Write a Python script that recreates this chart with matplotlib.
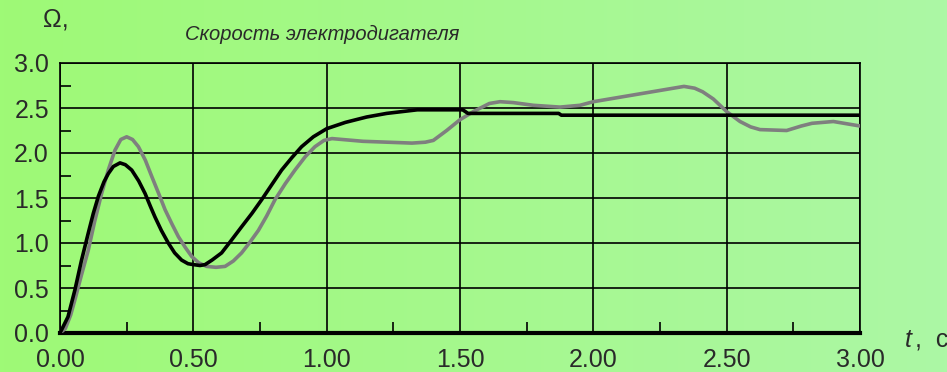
import numpy as np
import matplotlib
matplotlib.use("Agg")
import matplotlib.pyplot as plt
from matplotlib.colors import LinearSegmentedColormap

# Black curve (time, value)
t_black = [0.0, 0.03, 0.056, 0.08, 0.106, 0.125, 0.144, 0.165, 0.181, 0.20, 0.225, 0.245,
           0.269, 0.295, 0.319, 0.34, 0.356, 0.38, 0.406, 0.43, 0.456, 0.48, 0.5, 0.525,
           0.544, 0.57, 0.606, 0.64, 0.681, 0.72, 0.756, 0.79, 0.831, 0.87, 0.906, 0.95,
           1.0, 1.07, 1.15, 1.225, 1.34, 1.51, 1.53, 1.87, 1.88, 3.0]
v_black = [0.0, 0.18, 0.48, 0.80, 1.11, 1.33, 1.52, 1.68, 1.77, 1.85, 1.89, 1.87,
           1.81, 1.69, 1.55, 1.40, 1.29, 1.14, 1.0, 0.89, 0.81, 0.77, 0.76, 0.75,
           0.76, 0.81, 0.89, 1.02, 1.18, 1.33, 1.48, 1.63, 1.81, 1.95, 2.07, 2.18,
           2.27, 2.34, 2.40, 2.44, 2.48, 2.48, 2.44, 2.44, 2.42, 2.42]

# Gray curve (time, value)
t_gray = [0.0, 0.02, 0.04, 0.056, 0.08, 0.106, 0.13, 0.156, 0.181, 0.206, 0.228, 0.25,
          0.272, 0.294, 0.32, 0.344, 0.37, 0.394, 0.42, 0.444, 0.47, 0.494, 0.52, 0.55,
          0.585, 0.619, 0.65, 0.681, 0.71, 0.744, 0.775, 0.806, 0.845, 0.881, 0.92, 0.956,
          0.99, 1.02, 1.136, 1.32, 1.37, 1.40, 1.45, 1.5, 1.55, 1.61, 1.65, 1.7, 1.775,
          1.875, 1.95, 2.0, 2.14, 2.26, 2.34, 2.38, 2.41, 2.45, 2.50, 2.55, 2.59, 2.625,
          2.725, 2.78, 2.82, 2.9, 3.0]
v_gray = [0.0, 0.05, 0.2, 0.37, 0.64, 0.92, 1.24, 1.55, 1.81, 2.03, 2.15, 2.18,
          2.15, 2.07, 1.92, 1.74, 1.55, 1.37, 1.21, 1.07, 0.95, 0.85, 0.78, 0.74,
          0.73, 0.74, 0.80, 0.89, 1.00, 1.14, 1.30, 1.48, 1.66, 1.81, 1.96, 2.07,
          2.14, 2.16, 2.13, 2.11, 2.12, 2.14, 2.25, 2.37, 2.46, 2.55, 2.57, 2.56, 2.53,
          2.51, 2.53, 2.57, 2.64, 2.70, 2.74, 2.72, 2.68, 2.60, 2.46, 2.35, 2.29, 2.26,
          2.25, 2.30, 2.33, 2.35, 2.30]

x_ticks = [0.0, 0.5, 1.0, 1.5, 2.0, 2.5, 3.0]
x_labels = ["0.00", "0.50", "1.00", "1.50", "2.00", "2.50", "3.00"]
y_ticks = [0.0, 0.5, 1.0, 1.5, 2.0, 2.5, 3.0]
y_labels = ["0.0", "0.5", "1.0", "1.5", "2.0", "2.5", "3.0"]

FONT = ["Liberation Sans", "DejaVu Sans"]
plt.rcParams["font.family"] = FONT

W, H = 947, 372
fig = plt.figure(figsize=(W / 100, H / 100), dpi=100)

# gradient background
bg = fig.add_axes([0, 0, 1, 1], zorder=-10)
cmap = LinearSegmentedColormap.from_list("g", [(158/255, 250/255, 118/255), (172/255, 247/255, 165/255)])
bg.imshow(np.linspace(0, 1, 256)[None, :], aspect="auto", cmap=cmap, extent=[0, 1, 0, 1])
bg.set_axis_off()

L, R, T, B = 60, 860, 63, 333
ax = fig.add_axes([L / W, 1 - B / H, (R - L) / W, (B - T) / H])
ax.set_facecolor("none")
ax.set_xlim(0, 3)
ax.set_ylim(0, 3)

ax.set_xticks(x_ticks)
ax.set_xticklabels(x_labels)
ax.set_yticks(y_ticks)
ax.set_yticklabels(y_labels)
ax.set_xticks(np.arange(0.25, 3.0, 0.5), minor=True)
ax.set_yticks(np.arange(0.25, 3.0, 0.5), minor=True)
ax.tick_params(which="major", length=0, labelsize=18, labelcolor="#2a2a2a")
ax.tick_params(axis="x", which="major", pad=11)
ax.tick_params(axis="y", which="major", pad=8)
ax.tick_params(which="minor", direction="in", length=8, width=1.2, color="black")
ax.grid(True, which="major", color="black", linewidth=1.2)
for s in ax.spines.values():
    s.set_color("black")
    s.set_linewidth(1.2)
ax.spines["bottom"].set_linewidth(3)

ax.plot(t_gray, v_gray, color="#7f7f7f", linewidth=2.6, zorder=3, solid_joinstyle="round")
ax.plot(t_black, v_black, color="black", linewidth=2.6, zorder=4, solid_joinstyle="round")

fig.text(43 / W, 1 - 19 / H, "Ω,", fontsize=18, color="#2a2a2a", ha="left", va="center")
fig.text(185 / W, 1 - 34 / H, "Скорость электродигателя", fontsize=14.5, style="italic",
         color="#2a2a2a", ha="left", va="center")
fig.text(905 / W, 1 - 340 / H, "t", fontsize=18, style="italic", color="#2a2a2a", ha="left", va="center")
fig.text(915 / W, 1 - 340 / H, ",  с", fontsize=18, color="#2a2a2a", ha="left", va="center")

fig.savefig("out.png", dpi=100)
